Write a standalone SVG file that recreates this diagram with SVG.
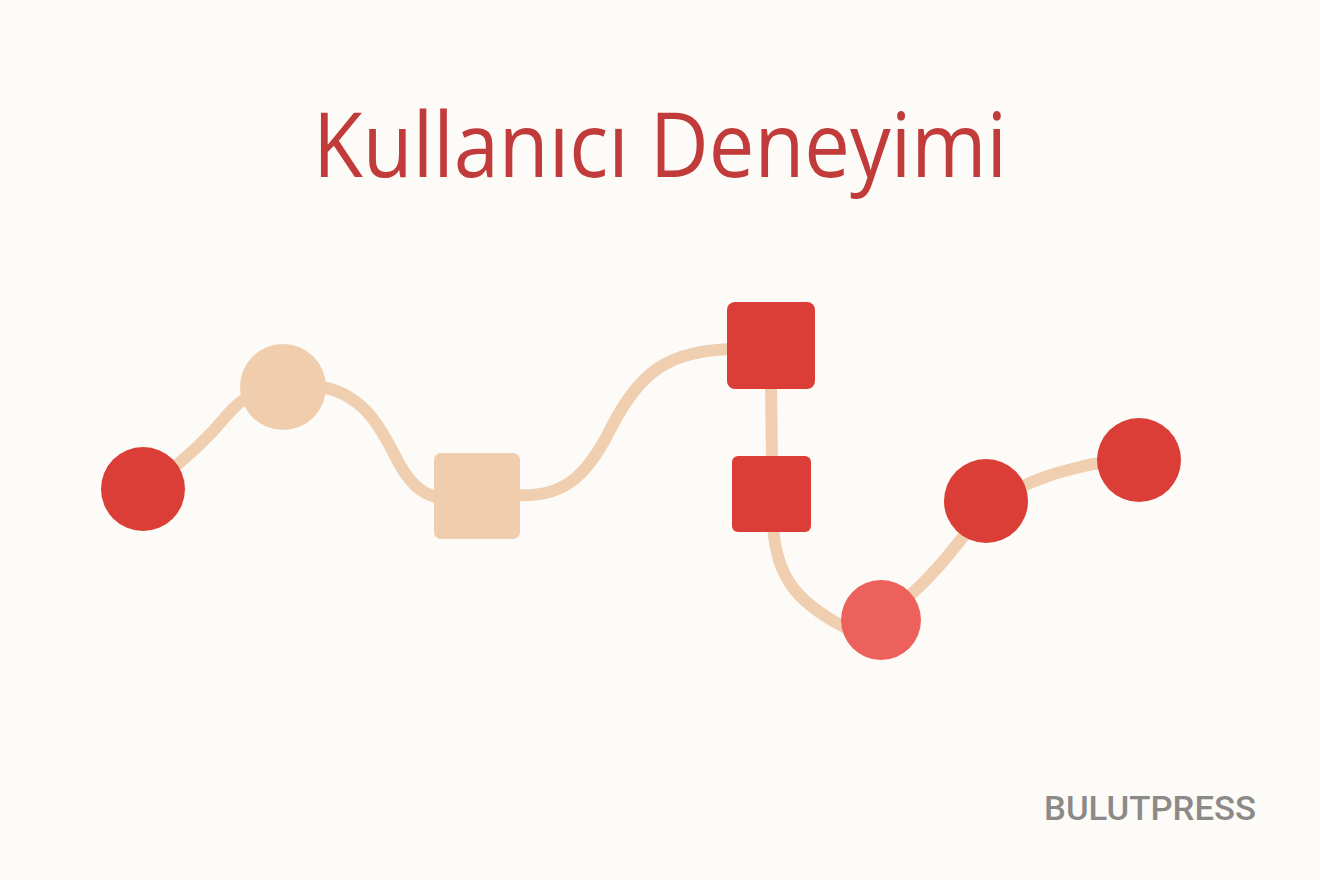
<svg xmlns="http://www.w3.org/2000/svg" width="1320" height="880" viewBox="0 0 1320 880">
<style>
.bg{fill:#FDFBF8}
.edge{fill:none;stroke:#EFCFB0;stroke-width:12;stroke-linecap:round}
.red{fill:#DB3E36}
.pink{fill:#EC615B}
.peach{fill:#EFCDAD}
.title{font-family:"Open Sans","Noto Sans",sans-serif;font-size:90px;fill:#C13B3A}
.brand{font-family:Roboto,"Liberation Sans",sans-serif;font-size:33px;font-weight:500;fill:#8C8A89}
</style>
<rect class="bg" x="0" y="0" width="1320" height="880"/>
<text class="title" x="313" y="177" textLength="694" lengthAdjust="spacingAndGlyphs">Kullanıcı Deneyimi</text>
<g id="connectors">
<path class="edge" d="M 160,478 C 190,456 210,436 228,414 C 236,405 242,400 250,396"/>
<path class="edge" d="M 315,386 C 365,392 380,428 400,465 C 412,486 424,495 440,498"/>
<path class="edge" d="M 515,495 C 560,498 585,480 610,430 C 640,370 670,350 735,349"/>
<path class="edge" d="M 771,380 L 772,465"/>
<path class="edge" d="M 773,525 C 776,580 800,605 850,630"/>
<path class="edge" d="M 905,600 C 930,578 945,560 970,528"/>
<path class="edge" d="M 1015,490 C 1040,477 1060,472 1080,467 C 1090,464 1100,463 1110,462"/>
</g>
<g id="n1"><circle class="red" cx="143" cy="489" r="42"/></g>
<g id="n2"><circle class="peach" cx="283" cy="387" r="43"/></g>
<g id="n3"><rect class="peach" x="434" y="453" width="86" height="86" rx="7"/></g>
<g id="n4"><rect class="red" x="727" y="302" width="88" height="87" rx="8"/></g>
<g id="n5"><rect class="red" x="732" y="456" width="79" height="76" rx="6"/></g>
<g id="n6"><circle class="pink" cx="881" cy="620" r="40"/></g>
<g id="n7"><circle class="red" cx="986" cy="501" r="42"/></g>
<g id="n8"><circle class="red" cx="1139" cy="460" r="42"/></g>
<text class="brand" x="1044" y="820" textLength="212" lengthAdjust="spacingAndGlyphs">BULUTPRESS</text>
</svg>
